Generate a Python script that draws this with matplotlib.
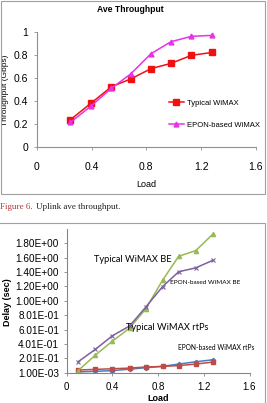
import matplotlib.pyplot as plt
from matplotlib.patches import Rectangle

W, H = 267, 403

# top chart: uplink average throughput
load_top = [0.245, 0.395, 0.545, 0.685, 0.835, 0.98, 1.13, 1.28]
thr_typical = [0.237, 0.38, 0.523, 0.59, 0.68, 0.725, 0.795, 0.82]
thr_epon = [0.214, 0.355, 0.51, 0.633, 0.81, 0.913, 0.96, 0.968]

# bottom chart: delay
load_bot = [0.1, 0.25, 0.4, 0.55, 0.69, 0.84, 0.98, 1.13, 1.28]
delay_epon_rtps = [0.012, 0.02, 0.03, 0.05, 0.07, 0.09, 0.121, 0.153, 0.181]
delay_typ_rtps = [0.038, 0.047, 0.056, 0.065, 0.08, 0.088, 0.1, 0.121, 0.149]
delay_typ_be = [0.03, 0.245, 0.44, 0.62, 0.885, 1.29, 1.62, 1.70, 1.93]
delay_epon_be = [0.153, 0.325, 0.515, 0.65, 0.91, 1.2, 1.405, 1.46, 1.565]
delay_ticks = [0.001, 0.201, 0.401, 0.601, 0.801, 1.001, 1.201, 1.401, 1.601, 1.801]
delay_labels = ['1.00E-03', '2.01E-01', '4.01E-01', '6.01E-01', '8.01E-01',
                '1.00E+00', '1.20E+00', '1.40E+00', '1.60E+00', '1.80E+00']

plt.rcParams['font.family'] = ['Liberation Sans', 'DejaVu Sans']


def px_axes(fig, x0, y0, x1, y1):
    # pixel box (from top-left) -> figure fraction
    return fig.add_axes([x0 / W, 1 - y1 / H, (x1 - x0) / W, (y1 - y0) / H])


fig = plt.figure(figsize=(W / 100, H / 100), dpi=100)
fig.patch.set_facecolor('white')

# frames
fig.add_artist(Rectangle((1 / W, 1 - 194 / H), 264 / W, 193 / H, transform=fig.transFigure,
                         fill=False, edgecolor='#a0a0a0', lw=0.8))
fig.add_artist(Rectangle((-2 / W, -2 / H), 267 / W, (403 - 223 + 2) / H, transform=fig.transFigure,
                         fill=False, edgecolor='#a0a0a0', lw=0.8))

# ---- top chart
ax = px_axes(fig, 37, 31.7, 255.7, 147)
ax.plot(load_top, thr_typical, color='#ee1111', marker='s', ms=4, lw=1.1, label='Typical WiMAX')
ax.plot(load_top, thr_epon, color='#e633e6', marker='^', ms=3.5, lw=1.1, label='EPON-based WiMAX')
ax.set_xlim(0, 1.6)
ax.set_ylim(0, 1)
ax.set_xticks([0, 0.4, 0.8, 1.2, 1.6])
ax.set_xticklabels(['0', '0.4', '0.8', '1.2', '1.6'])
ax.set_yticks([0, 0.2, 0.4, 0.6, 0.8, 1.0])
ax.set_yticklabels(['0', '0.2', '0.4', '0.6', '0.8', '1'])
for s in ['top', 'right']:
    ax.spines[s].set_visible(False)
for s in ['left', 'bottom']:
    ax.spines[s].set_color('#909090')
    ax.spines[s].set_linewidth(0.8)
ax.tick_params(labelsize=7.5, length=2.5, width=0.6, color='#909090')
ax.tick_params(axis='x', pad=8)
ax.tick_params(axis='y', pad=4)
ax.set_xlabel('Load', fontsize=6.5, labelpad=6)
ax.set_ylabel('Throughput (Gbps)', fontsize=6)
ax.yaxis.set_label_coords(-0.128, 0.494)
ax.set_title('Ave Throughput', fontsize=6.2, fontweight='bold', pad=14, x=0.425)
ax.legend(loc='center left', bbox_to_anchor=(0.57, 0.285), frameon=False, fontsize=5.5,
          handlelength=2.0, labelspacing=2.0, handletextpad=0.4)

# caption
fig.text(0.5 / W, 1 - 207 / H, 'Figure 6.', color='#b03a3a', fontsize=6.5,
         family='Liberation Serif', va='center')
fig.text(36 / W, 1 - 207 / H, 'Uplink ave throughput.', color='#222222', fontsize=6.5,
         family='Liberation Serif', va='center')

# ---- bottom chart
bx = px_axes(fig, 66.7, 229, 249.5, 372.7)
bx.plot(load_bot, delay_epon_rtps, color='#4a7ebb', marker='D', ms=2.2, lw=1.1)
bx.plot(load_bot, delay_typ_rtps, color='#be4b48', marker='s', ms=2.2, lw=1.1)
bx.plot(load_bot, delay_typ_be, color='#98b954', marker='^', ms=3, lw=1.1)
bx.plot(load_bot, delay_epon_be, color='#7d60a0', marker='x', ms=3, lw=1.1, mew=0.8)
bx.set_xlim(0, 1.6)
bx.set_ylim(0.001, 2.0)
bx.set_xticks([0, 0.4, 0.8, 1.2, 1.6])
bx.set_xticklabels(['0', '0.4', '0.8', '1.2', '1.6'])
bx.set_yticks(delay_ticks)
bx.set_yticklabels(delay_labels)
for s in ['top', 'right']:
    bx.spines[s].set_visible(False)
for s in ['left', 'bottom']:
    bx.spines[s].set_color('#868686')
    bx.spines[s].set_linewidth(0.8)
bx.tick_params(length=2.5, width=0.6, color='#868686')
bx.tick_params(axis='x', pad=4, labelsize=7)
bx.tick_params(axis='y', pad=3, labelsize=7.2)
bx.set_xlabel('Load', fontsize=6.5, fontweight='bold')
bx.xaxis.set_label_coords(0.5, -0.145)
bx.set_ylabel('Delay (sec)', fontsize=6.5, fontweight='bold')
bx.yaxis.set_label_coords(-0.3, 0.49)

calibri = ['Lato', 'DejaVu Sans']
bx.text(0.24, 1.58, 'Typical WiMAX BE', fontsize=6.7, family=calibri, va='center')
bx.text(0.905, 1.26, 'EPON-based WiMAX BE', fontsize=4.6, family=calibri, va='center')
bx.text(0.52, 0.635, 'Typical WiMAX rtPs', fontsize=6.7, family=calibri, va='center')
bx.text(0.97, 0.357, 'EPON-based WiMAX rtPs', fontsize=4.8, family=calibri, va='center')

fig.savefig('out.png', dpi=100)
